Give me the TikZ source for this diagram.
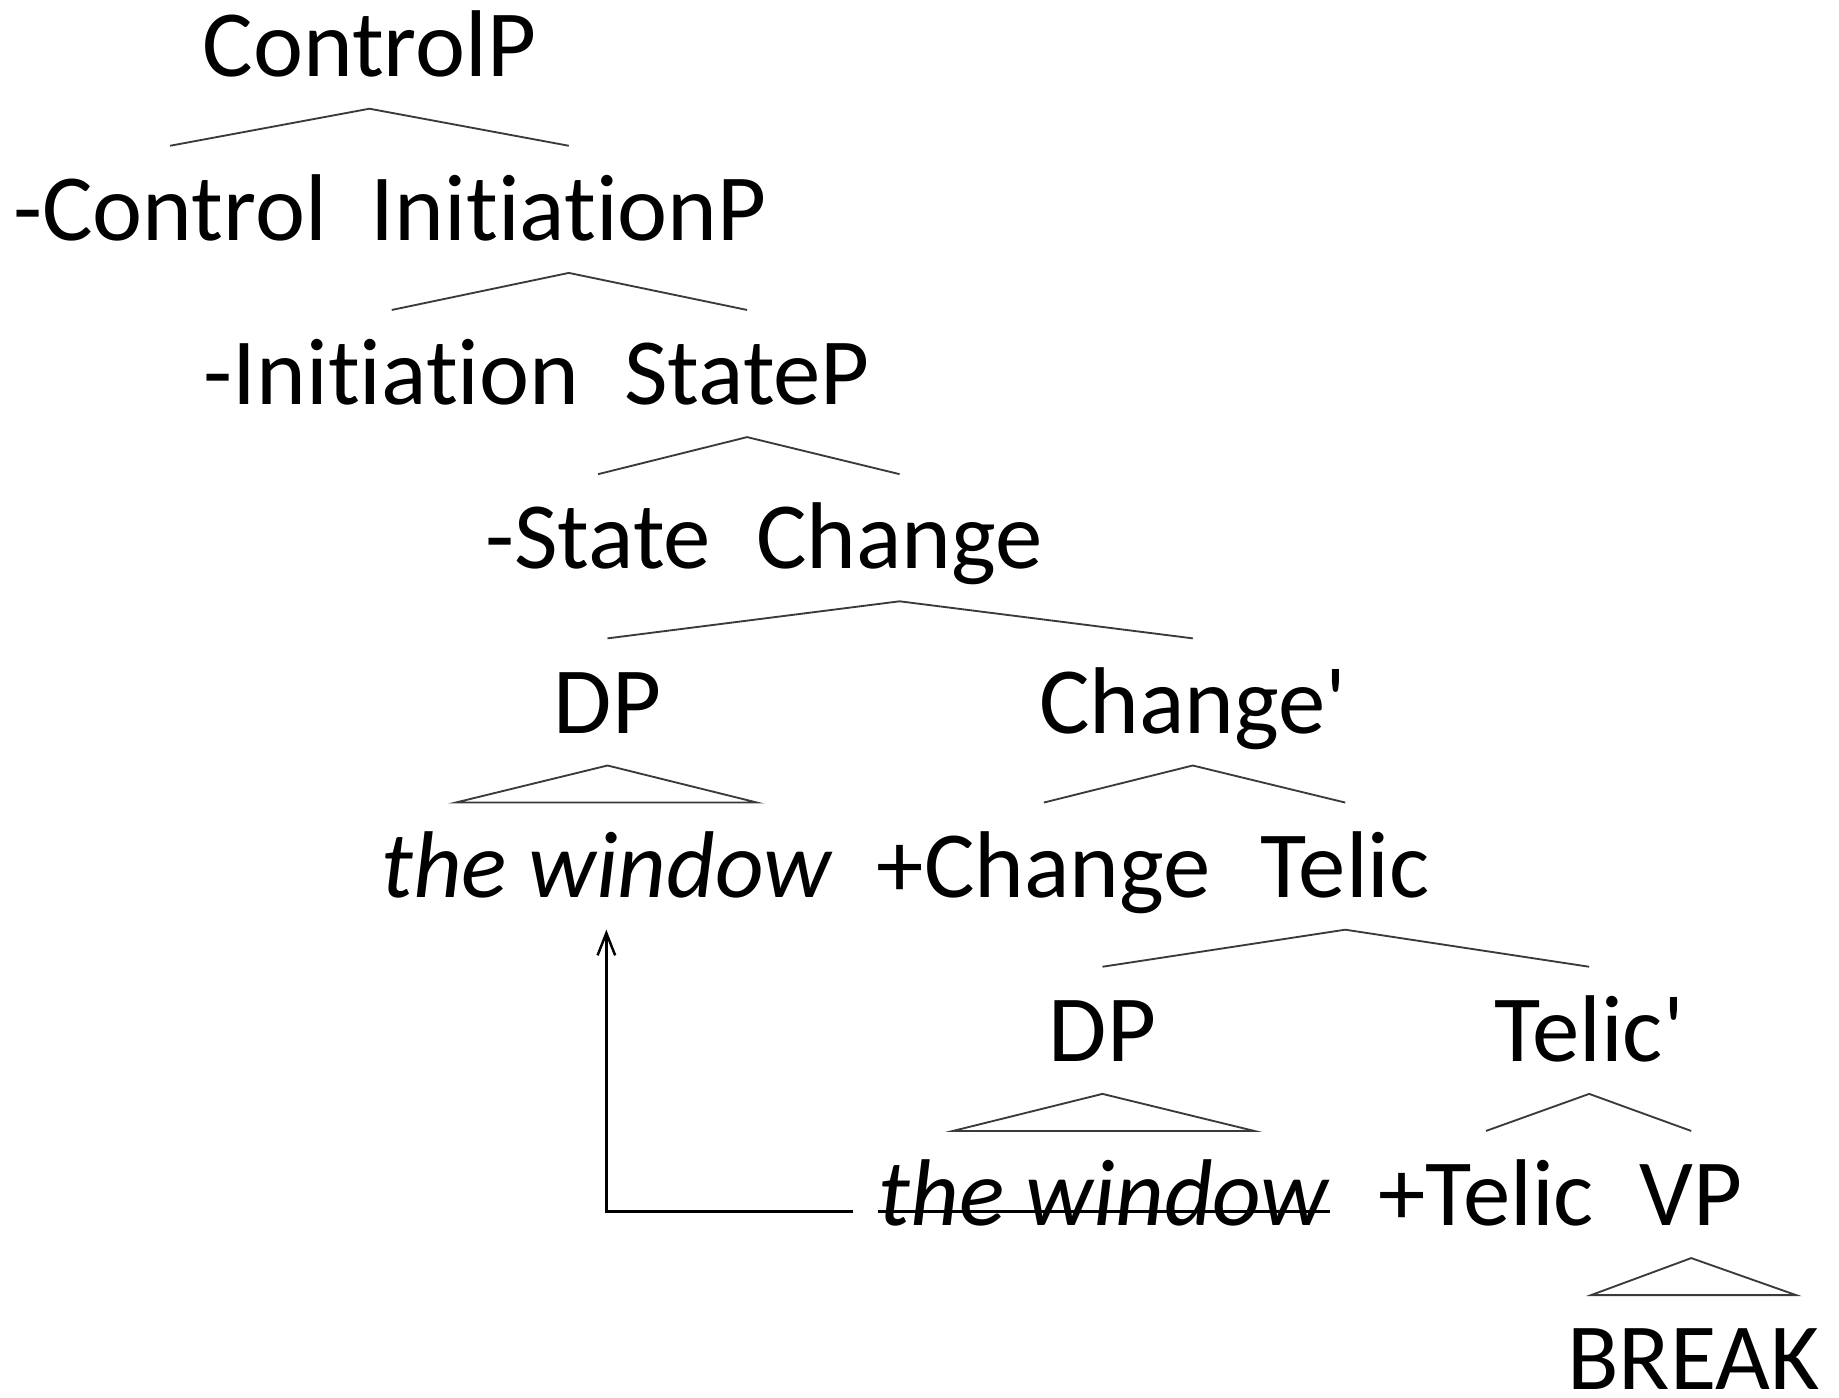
\documentclass[tikz,border=0pt]{standalone}
\usepackage{fontspec}
\setmainfont{Carlito}[Ligatures=NoCommon]
\usepackage{tikz}
\usetikzlibrary{arrows.meta}
\definecolor{branchGray}{HTML}{3a3a3a}

\begin{document}
\begin{tikzpicture}[x=0.1mm, y=-0.1mm,
    lbl/.style={anchor=base, inner sep=0pt, text height=8mm, text depth=2.7mm,
      font=\fontsize{23}{27}\selectfont},
    branch/.style={branchGray, line width=0.45pt}]
    \useasboundingbox (0,0) rectangle (1568,1192);
    % Labels, one row per level
    \node[lbl] (ctrlP) at (315,65) {ControlP};
    \node[lbl] (ctrl) at (145,205) {-Control};
    \node[lbl] (initP) at (485,205) {InitiationP};
    \node[lbl] (init) at (334,345) {-Initiation};
    \node[lbl] (stateP) at (637,345) {StateP};
    \node[lbl] (state) at (510,485) {-State};
    \node[lbl] (change) at (767,485) {Change};
    \node[lbl] (dpA) at (518,625) {DP};
    \node[lbl] (changeBar) at (1017,625) {Change\textquotesingle};
    \node[lbl] (winA) at (517,765) {\itshape the window};
    \node[lbl] (chg) at (890,765) {+Change};
    \node[lbl] (telic) at (1147,765) {Telic};
    \node[lbl] (dpB) at (940,905) {DP};
    \node[lbl] (telicBar) at (1355,905) {Telic\textquotesingle};
    \node[lbl] (winB) at (941,1045) {\itshape the window};
    \node[lbl] (telicF) at (1267,1045) {+Telic};
    \node[lbl] (vp) at (1442,1045) {VP};
    \node[lbl, text depth=0pt] (brk) at (1444,1185) {BREAK};
    % Binary branches
    \foreach \p/\l/\r in {ctrlP/ctrl/initP, initP/init/stateP, stateP/state/change,
        change/dpA/changeBar, changeBar/chg/telic, telic/dpB/telicBar, telicBar/telicF/vp}
      \draw[branch] (\l.north) -- (\p.south) -- (\r.north);
    % Triangles over unanalysed phrases
    \foreach \p/\c/\w in {dpA/winA/12.85mm, dpB/winB/12.85mm, vp/brk/8.75mm}
      \draw[branch] (\p.south) -- ([xshift=-\w]\c.north) -- ([xshift=\w]\c.north) -- cycle;
    % Struck-out copy and the movement arrow
    \draw[line width=0.7pt] ([yshift=1.2mm]winB.base west) -- ([yshift=1.2mm]winB.base east);
    \coordinate (trace) at ([xshift=-2.1mm, yshift=1.2mm]winB.base west);
    \draw[line width=0.6pt, -{Straight Barb[length=1.9mm, width=1.5mm]}]
      (trace) -| (winA.south);
\end{tikzpicture}
\end{document}
